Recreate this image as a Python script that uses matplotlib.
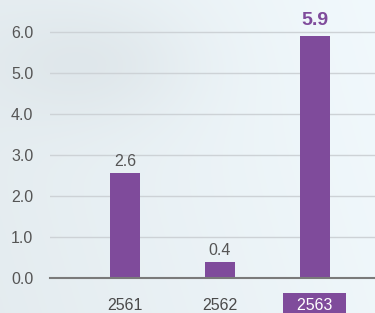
import matplotlib
matplotlib.use("Agg")
import matplotlib.pyplot as plt
import numpy as np

years = ["2561", "2562", "2563"]
values = [2.56, 0.4, 5.9]
highlight = 2

purple = "#7f4b9b"
grey_text = "#555555"

plt.rcParams["font.family"] = ["Liberation Sans", "DejaVu Sans"]

fig = plt.figure(figsize=(3.75, 3.13), dpi=100)

# soft sky-like background
bg = fig.add_axes([0, 0, 1, 1], zorder=-10)
yy, xx = np.mgrid[0:1:200j, 0:1:240j]
shade = 0.94 + 0.04 * xx + 0.01 * yy - 0.035 * np.exp(-((xx - 0.25) ** 2 / 0.08 + (yy - 0.8) ** 2 / 0.04))
rgb = np.dstack([shade - 0.045, shade - 0.015, shade])
bg.imshow(np.clip(rgb, 0, 1), aspect="auto", extent=[0, 1, 0, 1], origin="lower")
bg.axis("off")

ax = fig.add_axes([50 / 375, 35 / 313, 325 / 375, 270 / 313])
ax.patch.set_alpha(0)

x = np.arange(len(years))
bars = ax.bar(x, values, width=0.316, color=purple, zorder=3)

for i, b in enumerate(bars):
    h = b.get_height()
    if i == highlight:
        ax.annotate(f"{h:.1f}", xy=(b.get_x() + b.get_width() / 2, h),
                    xytext=(0, 5), textcoords="offset points",
                    ha="center", va="bottom", fontsize=14, fontweight="bold", color=purple)
    else:
        ax.annotate(f"{h:.1f}", xy=(b.get_x() + b.get_width() / 2, h),
                    xytext=(0, 2.5), textcoords="offset points",
                    ha="center", va="bottom", fontsize=11.5, color=grey_text)

ax.set_xlim(-0.789, 2.632)
ax.set_ylim(0, 6.58)
ax.set_yticks(np.arange(0, 7, 1))
ax.set_yticklabels([f"{v:.1f}" for v in np.arange(0, 7, 1)])
ax.yaxis.grid(True, color="#cdd2d6", linewidth=1)
ax.set_axisbelow(True)

ax.set_xticks(x)
ax.set_xticklabels(["  " + y + "  " if i == highlight else y for i, y in enumerate(years)])
ax.tick_params(axis="both", length=0, labelsize=11.5, labelcolor=grey_text)
ax.tick_params(axis="x", pad=14.5, labelcolor="#4a4a4a")
ax.tick_params(axis="y", pad=12)

hl = ax.get_xticklabels()[highlight]
hl.set_color("white")
hl.set_bbox(dict(boxstyle="square,pad=0.3", facecolor=purple, edgecolor="none"))

for s in ["top", "right", "left"]:
    ax.spines[s].set_visible(False)
ax.spines["bottom"].set_color("#7a7a7a")
ax.spines["bottom"].set_linewidth(1.5)
ax.spines["bottom"].set_zorder(4)

fig.savefig("out.png", dpi=100)
